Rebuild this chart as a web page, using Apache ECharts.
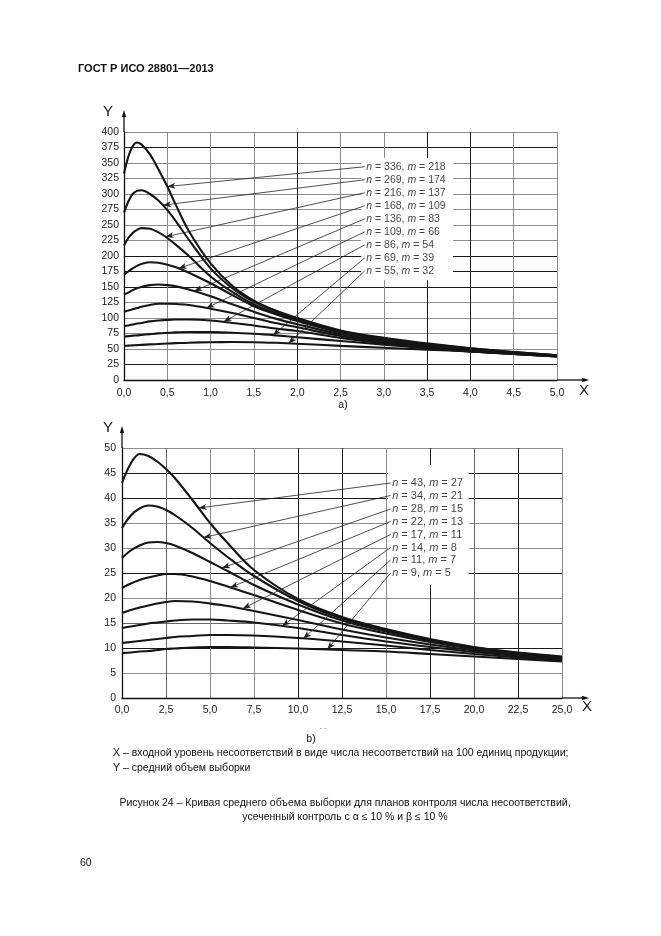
<!DOCTYPE html>
<html>
<head>
<meta charset="utf-8">
<script src="https://cdn.jsdelivr.net/npm/echarts@6/dist/echarts.min.js"></script>
<style>
  html, body { margin: 0; padding: 0; background: #fff; }
  #c { width: 661px; height: 936px; }
</style>
</head>
<body>
<div id="c"></div>
<script>
// ---------- DATA ----------
// Chart a)
const topX = [0, 0.05, 0.1, 0.15, 0.2, 0.3, 0.4, 0.5, 0.6, 0.75, 1.0, 1.25, 1.5, 1.75, 2.0, 2.5, 3.0, 3.5, 4.0, 4.5, 5.0];
const topN = [336, 269, 216, 168, 136, 109, 86, 69, 55];
const topM = [218, 174, 137, 109, 83, 66, 54, 39, 32];
const topA1 = [333, 360, 377, 383, 380, 364, 339, 312, 282, 240, 188, 152, 128, 112, 100, 80, 68, 59, 51, 45, 40];
const topA2 = [270, 288, 300, 305, 306, 300, 289, 274, 256, 226, 180, 148, 126, 111, 99, 79, 67, 58, 51, 45, 40];
const topA3 = [217, 229, 237, 242, 245, 244, 238, 229, 218, 200, 167, 142, 122, 108, 97, 78, 66, 57, 50, 44, 40];
const topA4 = [170, 175, 180, 184, 187, 190, 189, 186, 182, 173, 156, 137, 119, 106, 95, 77, 65, 56, 49, 44, 39];
const topA5 = [138, 141, 145, 148, 150, 153, 154, 153, 151, 146, 135, 122, 110, 99, 90, 74, 63, 55, 48, 43, 39];
const topA6 = [110, 112, 114, 116, 118, 121, 123, 123, 122.5, 121, 115, 108, 100, 92, 85, 71, 61, 53, 47, 42, 38];
const topA7 = [87, 88, 89.5, 91, 92, 94.5, 96, 97, 97.5, 97.5, 96, 92, 88, 83, 79, 68, 59, 52, 46, 42, 38];
const topA8 = [70, 70.7, 71.5, 72, 72.7, 74, 75.2, 76, 76.8, 77.3, 77.2, 76.3, 74.5, 72, 69, 63, 57, 51, 46, 42, 38];
const topA9 = [55, 55.4, 55.8, 56.2, 56.6, 57.4, 58.1, 58.8, 59.4, 60.2, 61, 61.2, 61, 60, 58.5, 55, 52, 49, 46, 42.5, 39];
const topSeries = [topA1, topA2, topA3, topA4, topA5, topA6, topA7, topA8, topA9];
// annotation: where each label sits (x, y) and where its arrow touches the curve
const topLabelX = 2.78;
const topLabelY = [344, 323, 302, 281, 260, 239, 218, 197, 176];
const topTipX = [0.50, 0.45, 0.48, 0.63, 0.81, 0.95, 1.15, 1.72, 1.90];
const topTipY = [312, 282, 231, 180, 143.5, 116, 94, 72.3, 59];
const topBox = [[2.74, 161], [3.8, 358]];

// Chart b)
const botX = [0, 0.5, 1, 1.5, 2, 2.5, 3, 4, 5, 6, 7.5, 10, 12.5, 15, 17.5, 20, 22.5, 25];
const botN = [43, 34, 28, 22, 17, 14, 11, 9];
const botM = [27, 21, 15, 13, 11, 8, 7, 5];
const botB1 = [43, 46.9, 48.8, 48.4, 47.3, 45.8, 44.0, 39.6, 35, 31, 25.6, 19.8, 16.2, 13.8, 11.8, 10.2, 9.1, 8.3];
const botB2 = [34, 36.5, 37.9, 38.5, 38.3, 37.6, 36.6, 34, 31, 28.2, 24.4, 19.4, 15.9, 13.6, 11.7, 10.1, 9.0, 8.2];
const botB3 = [28, 29.5, 30.5, 31.1, 31.2, 31, 30.5, 29, 27.2, 25.4, 22.6, 18.7, 15.5, 13.3, 11.5, 10, 8.9, 8.1];
const botB4 = [22, 22.9, 23.6, 24.1, 24.5, 24.8, 24.8, 24.3, 23.4, 22.3, 20.6, 17.6, 14.9, 12.9, 11.2, 9.8, 8.8, 8.0];
const botB5 = [17, 17.6, 18.1, 18.5, 18.9, 19.2, 19.4, 19.3, 18.9, 18.4, 17.4, 15.6, 13.7, 12.1, 10.7, 9.5, 8.6, 7.8];
const botB6 = [14, 14.3, 14.6, 14.9, 15.1, 15.3, 15.5, 15.7, 15.7, 15.5, 15.1, 14, 12.6, 11.3, 10.2, 9.2, 8.4, 7.7];
const botB7 = [11, 11.2, 11.4, 11.6, 11.8, 12, 12.2, 12.4, 12.6, 12.6, 12.5, 12, 11.3, 10.5, 9.6, 8.8, 8.1, 7.5];
const botB8 = [9, 9.1, 9.3, 9.4, 9.6, 9.8, 9.9, 10.1, 10.2, 10.2, 10.1, 9.9, 9.6, 9.3, 8.8, 8.3, 7.8, 7.3];
const botSeries = [botB1, botB2, botB3, botB4, botB5, botB6, botB7, botB8];
const botLabelX = 15.26;
const botLabelY = [43.0, 40.5, 37.8, 35.3, 32.7, 30.1, 27.6, 25.0];
const botTipX = [4.35, 4.63, 5.68, 6.15, 6.87, 9.1, 10.3, 11.66];
const botTipY = [38.0, 32.1, 26.0, 22.1, 17.9, 14.4, 11.9, 9.7];
const botBox = [[15.1, 22.6], [19.7, 46.6]];

// Axis tick settings
const topXMax = 5, topXStep = 0.5, topYMax = 400, topYStep = 25;
const botXMax = 25, botXStep = 2.5, botYMax = 50, botYStep = 5;

// ---------- STYLE ----------
const FONT = "'Liberation Sans', Arial, sans-serif";
const D = '#1a1a1a', G = '#8c8c8c';
const curveColor = '#151515';

function comma1(v) { return v.toFixed(1).replace('.', ','); }

function axisX(gi, max, step, colors, margin) {
  return {
    gridIndex: gi, type: 'value', min: 0, max: max, interval: step,
    axisLine: { show: true, onZero: false, lineStyle: { color: '#111', width: 1.3 } },
    axisTick: { show: false },
    axisLabel: { formatter: comma1, color: '#222', fontSize: 10.5, fontFamily: FONT, margin: margin, showMinLabel: true, showMaxLabel: true },
    splitLine: { show: true, lineStyle: { color: colors, width: 1 } }
  };
}
function axisY(gi, max, step, colors, margin) {
  return {
    gridIndex: gi, type: 'value', min: 0, max: max, interval: step,
    axisLine: { show: true, onZero: false, lineStyle: { color: '#111', width: 1.3 } },
    axisTick: { show: false },
    axisLabel: { color: '#222', fontSize: 10.5, fontFamily: FONT, margin: margin, showMinLabel: true, showMaxLabel: true },
    splitLine: { show: true, lineStyle: { color: colors, width: 1 } }
  };
}

const series = [];
function addChart(gi, xs, curves, N, M, lx, ly, tx, ty, box, fs) {
  // white box behind labels
  series.push({
    type: 'line', xAxisIndex: gi, yAxisIndex: gi, data: [], z: 1, silent: true,
    markArea: { silent: true, itemStyle: { color: '#fff' },
      data: [[{ coord: box[0] }, { coord: box[1] }]] }
  });
  curves.forEach((vals, i) => {
    series.push({
      type: 'line', xAxisIndex: gi, yAxisIndex: gi, z: 2,
      data: xs.map((x, k) => [x, vals[k]]),
      smooth: 0.35, showSymbol: false, symbol: 'none',
      lineStyle: { color: curveColor, width: 2.1 },
      markLine: {
        silent: true, symbol: ['none', 'arrow'], symbolSize: [4.5, 8],
        lineStyle: { color: '#222', width: 0.8, type: 'solid' },
        label: { show: false },
        data: [[{ coord: [lx, ly[i]] }, { coord: [tx[i], ty[i]] }]]
      }
    });
  });
  series.push({
    type: 'scatter', xAxisIndex: gi, yAxisIndex: gi, z: 3, symbolSize: 0.1,
    itemStyle: { color: 'transparent' },
    data: ly.map((y, i) => ({ value: [lx, y], n: N[i], m: M[i] })),
    label: {
      show: true, position: 'right', distance: 1.5, color: '#111', fontSize: fs, fontFamily: FONT,
      formatter: p => '{i|n} = ' + N[p.dataIndex] + ', {i|m} = ' + M[p.dataIndex],
      rich: { i: { fontStyle: 'italic', fontSize: fs, fontFamily: FONT, color: '#111' } }
    }
  });
}

addChart(0, topX, topSeries, topN, topM, topLabelX, topLabelY, topTipX, topTipY, topBox, 10.5);
addChart(1, botX, botSeries, botN, botM, botLabelX, botLabelY, botTipX, botTipY, botBox, 11);

const topXCol = [G, G, G, G, D, G, G, D, D, G, G];
const topYCol = [G, D, G, G, G, G, D, D, D, G, G, G, G, G, G, D, G];
const botXCol = [G, '#666', G, G, D, D, G, D, '#666', D, G];
const botYCol = [G, G, D, '#666', G, D, G, G, D, D, G];

const chart = echarts.init(document.getElementById('c'), null, { renderer: 'canvas', width: 661, height: 936 });
chart.setOption({
  animation: false,
  backgroundColor: '#fff',
  grid: [
    { left: 124, top: 132, width: 433, height: 248 },
    { left: 122, top: 448, width: 440, height: 250 }
  ],
  xAxis: [axisX(0, topXMax, topXStep, topXCol, 8), axisX(1, botXMax, botXStep, botXCol, 7)],
  yAxis: [axisY(0, topYMax, topYStep, topYCol, 5), axisY(1, botYMax, botYStep, botYCol, 6)],
  series: series
});

// axis arrows extending beyond plot + surrounding texts
function arrowGraphics(gi, yTipPix, xTipPix) {
  const o = chart.convertToPixel({ gridIndex: gi }, [0, 0]);
  const g = chart.convertToPixel({ gridIndex: gi }, [gi === 0 ? topXMax : botXMax, gi === 0 ? topYMax : botYMax]);
  const st = { stroke: '#111', lineWidth: 1.3 };
  return [
    { type: 'line', shape: { x1: o[0], y1: g[1], x2: o[0], y2: yTipPix + 4 }, style: st, z: 10 },
    { type: 'polygon', shape: { points: [[o[0], yTipPix], [o[0] - 2.2, yTipPix + 7], [o[0] + 2.2, yTipPix + 7]] }, style: { fill: '#111' }, z: 10 },
    { type: 'line', shape: { x1: g[0], y1: o[1], x2: xTipPix - 4, y2: o[1] }, style: st, z: 10 },
    { type: 'polygon', shape: { points: [[xTipPix, o[1]], [xTipPix - 7, o[1] - 2.2], [xTipPix - 7, o[1] + 2.2]] }, style: { fill: '#111' }, z: 10 }
  ];
}
function txt(x, y, s, size, opts) {
  return Object.assign({ type: 'text', x: x, y: y, z: 20,
    style: Object.assign({ text: s, fontSize: size, fontFamily: FONT, fill: '#111', textVerticalAlign: 'middle' }, opts || {}) });
}

const graphics = []
  .concat(arrowGraphics(0, 110, 589))
  .concat(arrowGraphics(1, 426, 589))
  .concat([
    txt(78, 69, 'ГОСТ Р ИСО 28801—2013', 11, { fontWeight: 'bold' }),
    txt(108, 112, 'Y', 15, { textAlign: 'center' }),
    txt(584, 391, 'X', 15, { textAlign: 'center' }),
    txt(343, 405, 'a)', 10.5, { textAlign: 'center' }),
    txt(108, 428, 'Y', 15, { textAlign: 'center' }),
    txt(587, 707, 'X', 15, { textAlign: 'center' }),
    txt(323, 727, '. .', 8, { textAlign: 'center' }),
    txt(311, 739, 'b)', 10.5, { textAlign: 'center' }),
    txt(113, 753, 'X – входной уровень несоответствий в виде числа несоответствий на 100 единиц продукции;', 10.5),
    txt(113, 768, 'Y – средний объем выборки', 10.5),
    txt(345, 803, 'Рисунок 24 – Кривая среднего объема выборки для планов контроля числа несоответствий,', 10.5, { textAlign: 'center' }),
    txt(345, 817, 'усеченный контроль с α ≤ 10 % и β ≤ 10 %', 10.5, { textAlign: 'center' }),
    txt(80, 863, '60', 10.5)
  ]);

chart.setOption({ graphic: graphics });
</script>
</body>
</html>
